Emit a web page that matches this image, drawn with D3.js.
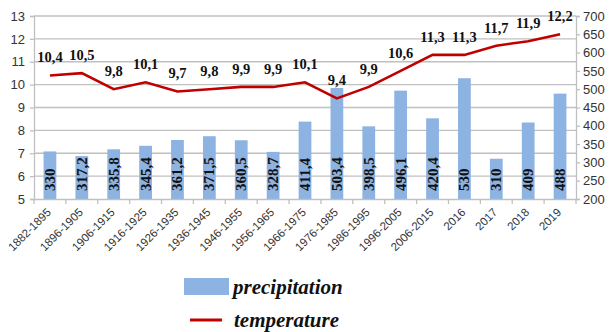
<!DOCTYPE html>
<html>
<head>
<meta charset="utf-8">
<script src="https://cdn.jsdelivr.net/npm/d3@7"></script>
<style>
  body { margin: 0; background: #fff; }
  svg { display: block; }
</style>
</head>
<body>
<div id="chart"></div>
<script>
// periods on the x axis
var periods = ['1882-1895','1896-1905','1906-1915','1916-1925','1926-1935','1936-1945',
  '1946-1955','1956-1965','1966-1975','1976-1985','1986-1995','1996-2005','2006-2015',
  '2016','2017','2018','2019']
var temperature = [10.4,10.5,9.8,10.1,9.7,9.8,9.9,9.9,10.1,9.4,9.9,10.6,11.3,11.3,11.7,11.9,12.2]
var precipitation = [330,317.2,335.8,345.4,361.2,371.5,360.5,328.7,411.4,503.4,398.5,496.1,420.4,530,310,409,488]
var tempTicks = [5,6,7,8,9,10,11,12,13]
var precTicks = [200,250,300,350,400,450,500,550,600,650,700]

var width = 609, height = 332
var plot = {left: 34, right: 576, top: 16, bottom: 199}
var barColor = '#8db3e2', lineColor = '#c00000', gridColor = '#c0c0c0'

var fmt = function(v){ return String(v).replace('.', ',') }

var svg = d3.select('#chart').append('svg').attr('width', width).attr('height', height)

var x = d3.scaleBand().domain(periods).range([plot.left, plot.right]).paddingInner(0.6).paddingOuter(0.3)
var xb = d3.scaleBand().domain(periods).range([plot.left, plot.right])
var yL = d3.scaleLinear().domain([5, 13]).range([plot.bottom, plot.top])
var yR = d3.scaleLinear().domain([200, 700]).range([plot.bottom, plot.top])

// gridlines
svg.append('g').selectAll('line').data(tempTicks.slice(1)).enter().append('line')
  .attr('x1', plot.left).attr('x2', plot.right)
  .attr('y1', function(d){ return yL(d) }).attr('y2', function(d){ return yL(d) })
  .style('stroke', gridColor).style('stroke-width', 1.3)

// bars
svg.append('g').selectAll('rect').data(precipitation).enter().append('rect')
  .attr('x', function(d,i){ return x(periods[i]) })
  .attr('width', x.bandwidth())
  .attr('y', function(d){ return yR(d) })
  .attr('height', function(d){ return plot.bottom - yR(d) })
  .style('fill', barColor)

// bar labels (vertical)
svg.append('g').selectAll('text').data(precipitation).enter().append('text')
  .attr('transform', function(d,i){
    return 'translate(' + (x(periods[i]) + x.bandwidth()/2 + 5) + ',' + (plot.bottom - 8) + ') rotate(-90)'
  })
  .style('font-family', '"Liberation Serif", "Times New Roman", serif')
  .style('font-weight', 'bold').style('font-size', '15px').style('fill', '#111')
  .text(function(d){ return fmt(d) })

// axes
var axL = svg.append('g').attr('transform', 'translate(' + plot.left + ',0)')
  .call(d3.axisLeft(yL).tickValues(tempTicks).tickSize(4).tickPadding(5))
var axR = svg.append('g').attr('transform', 'translate(' + plot.right + ',0)')
  .call(d3.axisRight(yR).tickValues(precTicks).tickSize(4).tickPadding(3))
var axB = svg.append('g').attr('transform', 'translate(0,' + plot.bottom + ')')
  .call(d3.axisBottom(xb).tickSize(0).tickPadding(6))

;[axL, axR, axB].forEach(function(a){
  a.select('.domain').style('stroke', gridColor).style('stroke-width', 1.3)
  a.selectAll('.tick line').style('stroke', gridColor).style('stroke-width', 1.3)
  a.selectAll('text').style('font-family', '"Liberation Sans", Arial, sans-serif')
    .style('fill', '#333')
})
axL.selectAll('text').style('font-size', '13px')
axR.selectAll('text').style('font-size', '13px')
axB.selectAll('text').style('font-size', '11.5px')
  .attr('text-anchor', 'end')
  .attr('y', 0).attr('dy', '0.35em').attr('dx', 0)
  .attr('transform', 'translate(-1,11) rotate(-45)')

// category boundary ticks
svg.append('g').selectAll('line').data(periods.concat(['end'])).enter().append('line')
  .attr('x1', function(d,i){ return plot.left + i * xb.bandwidth() })
  .attr('x2', function(d,i){ return plot.left + i * xb.bandwidth() })
  .attr('y1', plot.bottom).attr('y2', plot.bottom + 5)
  .style('stroke', gridColor).style('stroke-width', 1.3)

// temperature line
var line = d3.line()
  .x(function(d,i){ return xb(periods[i]) + xb.bandwidth()/2 })
  .y(function(d){ return yL(d) })
svg.append('path').datum(temperature).attr('d', line)
  .style('fill', 'none').style('stroke', lineColor).style('stroke-width', 2.6)

svg.append('g').selectAll('text').data(temperature).enter().append('text')
  .attr('x', function(d,i){ return xb(periods[i]) + xb.bandwidth()/2 })
  .attr('y', function(d){ return yL(d) - 13 })
  .attr('text-anchor', 'middle')
  .style('font-family', '"Liberation Serif", "Times New Roman", serif')
  .style('font-weight', 'bold').style('font-size', '14.5px').style('fill', '#111')
  .text(function(d){ return fmt(d) })

// legend
var legend = svg.append('g')
legend.append('rect').attr('x', 184).attr('y', 278).attr('width', 45).attr('height', 17)
  .style('fill', barColor)
legend.append('text').attr('x', 233).attr('y', 294).text('precipitation')
legend.append('line').attr('x1', 190).attr('x2', 222).attr('y1', 320).attr('y2', 320)
  .style('stroke', lineColor).style('stroke-width', 3)
legend.append('text').attr('x', 234).attr('y', 327).text('temperature')
legend.selectAll('text')
  .style('font-family', '"Liberation Serif", "Times New Roman", serif')
  .style('font-weight', 'bold').style('font-style', 'italic').style('font-size', '21px')
  .style('fill', '#111')
</script>
</body>
</html>
